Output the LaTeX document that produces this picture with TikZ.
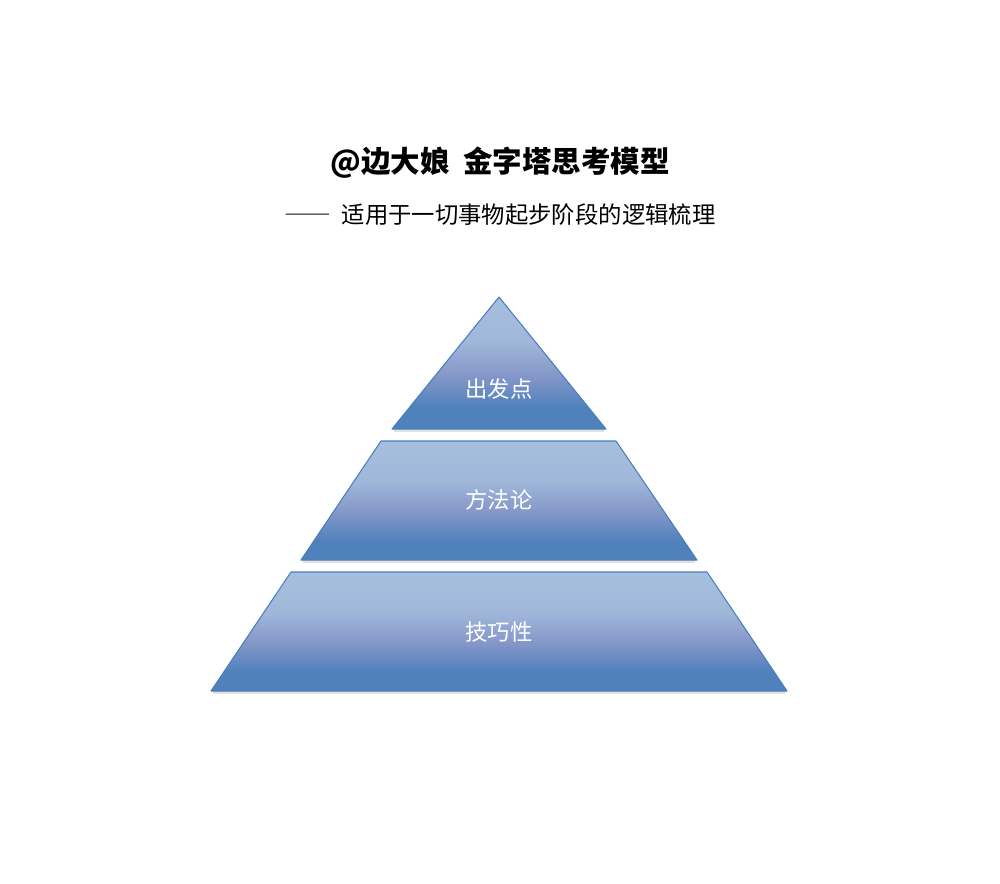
\documentclass[tikz,border=0pt]{standalone}
\usepackage{fontspec}
\usepackage{tikz}
\newfontfamily\cjk{Noto Sans CJK SC}
\newfontfamily\cjkwide[RawFeature=+fwid]{Noto Sans CJK SC}
\definecolor{lvlight}{HTML}{A7BFDE}
\definecolor{lvmid}{HTML}{8496C8}
\definecolor{lvdark}{HTML}{4F81BD}
\definecolor{lvline}{HTML}{4A7EBB}
\pgfdeclareverticalshading{layer}{100bp}{color(0bp)=(lvdark); color(25bp)=(lvdark); color(33bp)=(lvdark); color(45bp)=(lvmid); color(58bp)=(lvlight!80!lvmid); color(75bp)=(lvlight); color(100bp)=(lvlight)}
\tikzstyle{layerbox} = [shading=layer, draw=lvline, line width=0.6pt, line join=round]
\tikzstyle{shadowbox} = [fill=black!12, draw=none]
\tikzstyle{label} = [text=white, font=\cjk\fontsize{12.7pt}{14pt}\selectfont]

\begin{document}
\begin{tikzpicture}[x=0.02cm,y=-0.02cm]
    \useasboundingbox (0,0) rectangle (1000,883);
    % titles
    \node (title) at (500,163) {\cjk\bfseries\fontsize{16.8pt}{20pt}\selectfont @边大娘\ \ 金字塔思考模型};
    \node (subtitle) at (500,215) {\cjk\fontsize{13.3pt}{16pt}\selectfont {\cjkwide ——}\ \ 适用于一切事物起步阶段的逻辑梳理};
    % pyramid layers
    \fill[shadowbox] (394,429) -- (604,429) -- (604,432) -- (394,432) -- cycle;
    \fill[shadowbox] (303,560) -- (695,560) -- (695,563) -- (303,563) -- cycle;
    \fill[shadowbox] (213,691) -- (785,691) -- (785,694) -- (213,694) -- cycle;
    \path[layerbox] (499,297) -- (606,429) -- (392,429) -- cycle;
    \path[layerbox] (381,441) -- (616,441) -- (697,560) -- (301,560) -- cycle;
    \path[layerbox] (291,572) -- (707,572) -- (787,691) -- (211,691) -- cycle;
    % labels
    \node[label] (start) at (499,389) {出发点};
    \node[label] (method) at (499,500) {方法论};
    \node[label] (skill) at (499,632) {技巧性};
\end{tikzpicture}
\end{document}
